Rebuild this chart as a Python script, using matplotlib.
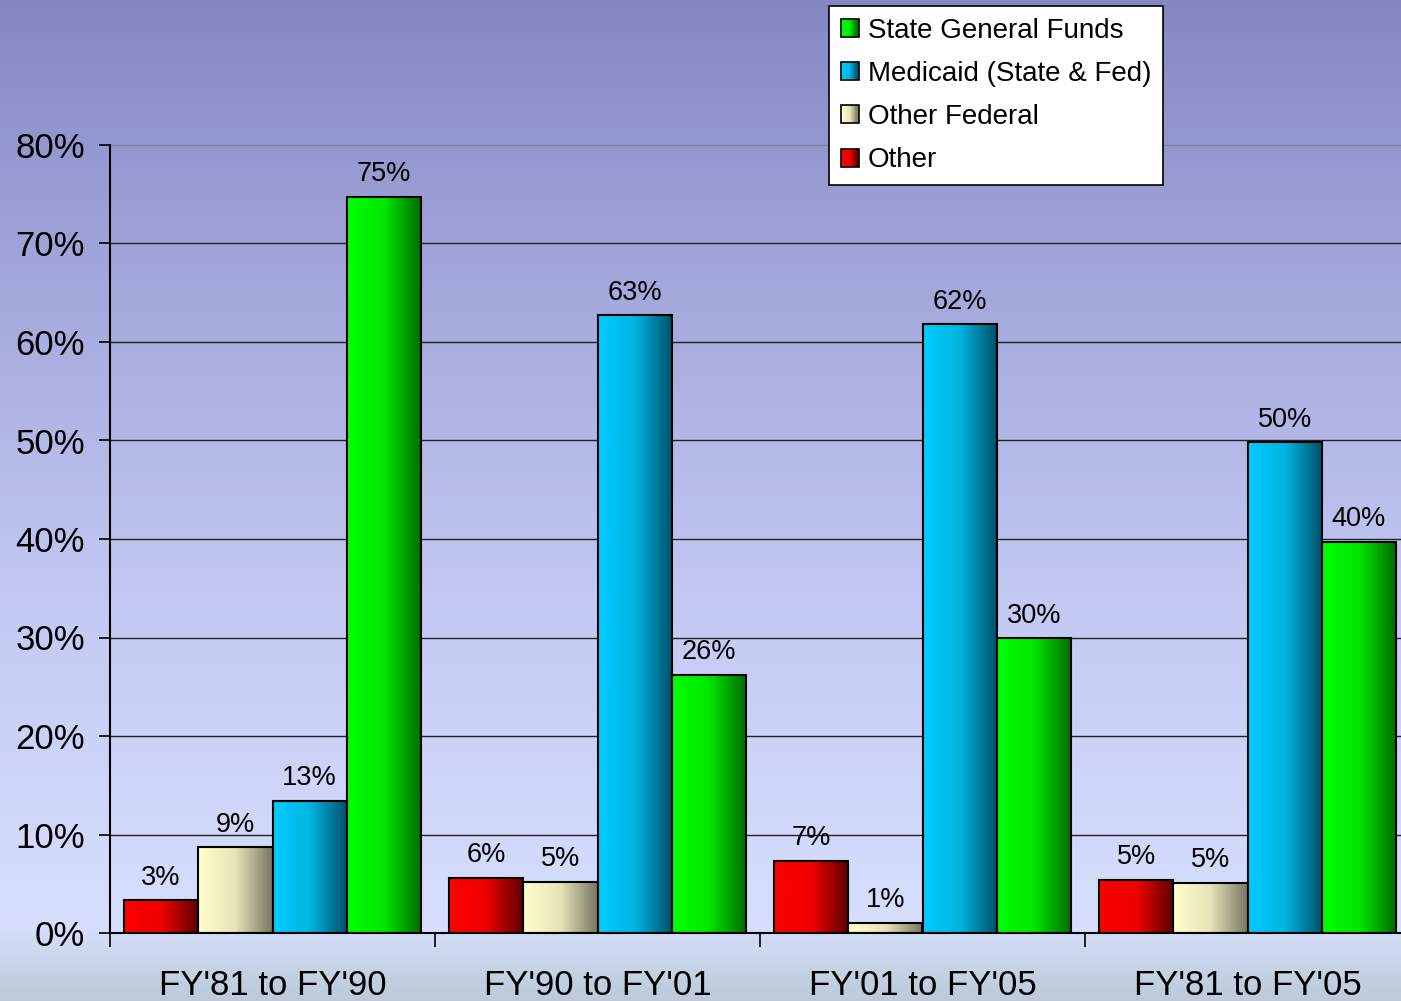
import numpy as np
import matplotlib
matplotlib.use("Agg")
import matplotlib.pyplot as plt
from matplotlib.colors import LinearSegmentedColormap
from matplotlib.patches import Patch, Rectangle
from matplotlib.legend_handler import HandlerBase

plt.rcParams['font.family'] = ['Liberation Sans', 'DejaVu Sans']

# data (percent)
periods = ["FY'81 to FY'90", "FY'90 to FY'01", "FY'01 to FY'05", "FY'81 to FY'05"]
series = ['Other', 'Other Federal', 'Medicaid (State & Fed)', 'State General Funds']
other = [3.3, 5.6, 7.3, 5.4]
other_federal = [8.7, 5.2, 1.0, 5.1]
medicaid = [13.4, 62.7, 61.8, 49.8]
state_general = [74.7, 26.2, 29.9, 39.7]
yticks = [0, 10, 20, 30, 40, 50, 60, 70, 80]

values = [other, other_federal, medicaid, state_general]
gradients = [
    ['#ff0000', '#f00000', '#5c0000'],
    ['#ffffcc', '#e6e4b8', '#777762'],
    ['#00ccff', '#00b4e0', '#004e68'],
    ['#00ff00', '#00e600', '#006a00'],
]
cmaps = [LinearSegmentedColormap.from_list('g%d' % i, c) for i, c in enumerate(gradients)]

W, H = 1401, 1001
fig = plt.figure(figsize=(W / 100, H / 100), dpi=100)

# background gradient
bg = fig.add_axes([0, 0, 1, 1], zorder=-5)
bg_cmap = LinearSegmentedColormap.from_list('bg', [
    (0.0, '#8587c3'), (0.25, '#a0a4d9'), (0.6, '#c3c9f3'),
    (0.93, '#d7dffd'), (0.935, '#d3dcf6'), (1.0, '#bccada')])
bg.imshow(np.linspace(0, 1, 256).reshape(-1, 1), cmap=bg_cmap, aspect='auto',
          extent=[0, 1, 0, 1], origin='upper')
bg.set_axis_off()

# plot area: x 110..1410 px (runs slightly past the right edge), y 145..933 px
ax = fig.add_axes([110 / W, (H - 933) / H, 1300 / W, (933 - 145) / H])
ax.patch.set_alpha(0)

bw = 297 / 325 / 4
start = 14 / 325
grad = np.linspace(0, 1, 128).reshape(1, -1)
for s, (vals, cm) in enumerate(zip(values, cmaps)):
    for g, v in enumerate(vals):
        x0 = g + start + s * bw
        ax.imshow(grad, cmap=cm, extent=[x0, x0 + bw, 0, v], aspect='auto', zorder=2)
        ax.bar(x0, v, width=bw, align='edge', facecolor='none',
               edgecolor='black', linewidth=1.5, zorder=3)
        ax.annotate('%d%%' % round(v), (x0 + bw / 2, v), xytext=(0, 7),
                    textcoords='offset points', ha='center', va='bottom',
                    fontsize=19.5, zorder=4)

ax.set_xlim(0, 4)
ax.set_ylim(0, 80)

for y in yticks[1:-1]:
    ax.axhline(y, color='#222222', linewidth=1, zorder=1)
ax.axhline(80, color='#808080', linewidth=1.5, zorder=1)

for sp in ['top', 'right']:
    ax.spines[sp].set_visible(False)
ax.spines['left'].set_linewidth(1.5)
ax.spines['bottom'].set_linewidth(1.5)

ax.set_yticks(yticks)
ax.set_yticklabels(['%d%%' % y for y in yticks], fontsize=25)
ax.tick_params(axis='y', length=8, width=1.2, pad=10)

ax.set_xticks([0, 1, 2, 3])
ax.set_xticklabels([])
ax.tick_params(axis='x', which='major', length=10, width=1.2)
ax.set_xticks([0.5, 1.5, 2.5, 3.5], minor=True)
ax.set_xticklabels(periods, minor=True, fontsize=25)
ax.tick_params(axis='x', which='minor', length=0, pad=26)


class GradientHandler(HandlerBase):
    def __init__(self, cmap):
        super().__init__()
        self.cmap = cmap

    def create_artists(self, legend, orig_handle, xdescent, ydescent,
                       width, height, fontsize, trans):
        size = min(width, height)
        x0 = -xdescent + (width - size) / 2
        y0 = -ydescent + (height - size) / 2
        arts = []
        n = 16
        for k in range(n):
            r = Rectangle((x0 + k * size / n, y0), size / n, size,
                          facecolor=self.cmap(k / (n - 1)), edgecolor='none',
                          transform=trans)
            arts.append(r)
        arts.append(Rectangle((x0, y0), size, size, facecolor='none',
                              edgecolor='black', linewidth=1.2, transform=trans))
        return arts


handles = [Patch(label=series[i]) for i in range(4)]
order = [3, 2, 1, 0]
leg = fig.legend([handles[i] for i in order], [series[i] for i in order],
                 loc='upper left', bbox_to_anchor=(829 / W, 1 - 6 / H),
                 handler_map={handles[i]: GradientHandler(cmaps[i]) for i in range(4)},
                 fontsize=20, frameon=True, fancybox=False, framealpha=1,
                 edgecolor='black', borderaxespad=0, borderpad=0.42,
                 handlelength=0.65, handleheight=0.65, handletextpad=0.32,
                 labelspacing=0.62)
leg.get_frame().set_linewidth(1.2)

fig.savefig('out.png', dpi=100)
